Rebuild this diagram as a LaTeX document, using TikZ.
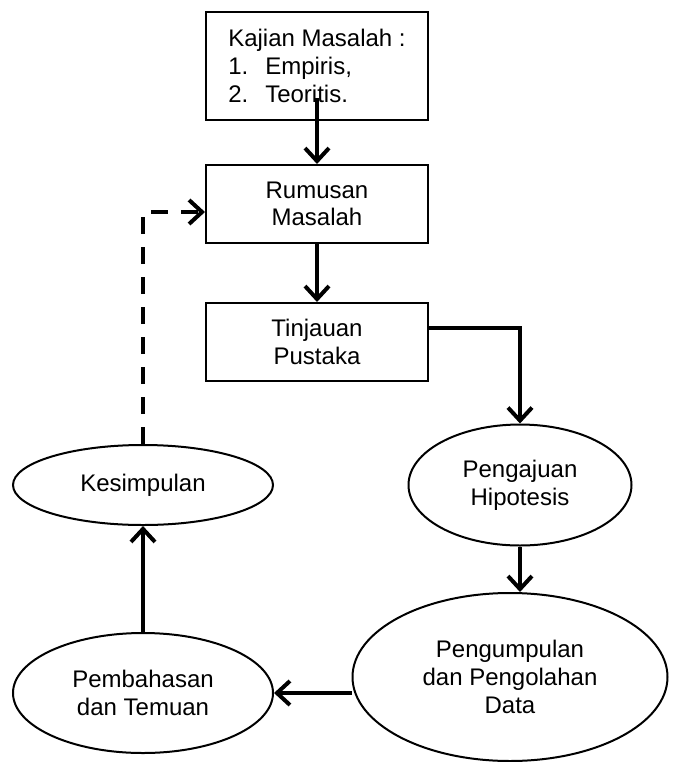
\documentclass[tikz,border=0pt]{standalone}
\usepackage{fontspec}
\setmainfont{Liberation Sans}
\usetikzlibrary{arrows.meta}
\usetikzlibrary{shapes.geometric}

\begin{document}
\begin{tikzpicture}[x=0.5pt,y=-0.5pt]
  \useasboundingbox (0,0) rectangle (675,762);

      \begin{scope}[every node/.style={rectangle,draw,line width=1pt,inner sep=0pt,
          minimum width=111pt,align=center,font=\fontsize{12}{13.8}\selectfont}]
        \node[minimum height=54pt,align=left,font=\fontsize{12}{14.2}\selectfont] (kajian) at (317,66)
          {Kajian Masalah :\\\makebox[18.5pt][l]{1.}Empiris,\\\makebox[18.5pt][l]{2.}Teoritis.};
        \node[minimum height=39pt] (rumusan) at (317,204) {Rumusan\\Masalah};
        \node[minimum height=39pt] (tinjauan) at (317,342) {Tinjauan\\Pustaka};
      \end{scope}

      \begin{scope}[every node/.style={ellipse,draw,line width=1pt,inner sep=0pt,
          align=center,font=\fontsize{12}{13.8}\selectfont}]
        \node[minimum width=111.5pt,minimum height=60.5pt] (pengajuan) at (520,485) {Pengajuan\\Hipotesis};
        \node[minimum width=157.5pt,minimum height=84pt] (pengumpulan) at (510,677) {Pengumpulan\\dan Pengolahan\\Data};
        \node[minimum width=130pt,minimum height=60pt] (pembahasan) at (143,693) {Pembahasan\\dan Temuan};
        \node[minimum width=130pt,minimum height=40pt] (kesimpulan) at (143,485) {Kesimpulan};
      \end{scope}

      \begin{scope}[line width=2pt,>={Straight Barb[length=6.5pt,width=12pt]}]
        \draw [->] ([yshift=11.5pt]kajian.south) -- (rumusan.north);
        \draw [->] (rumusan) -- (tinjauan);
        \draw [->] ([yshift=7pt]tinjauan.east) -| (pengajuan.north);
        \draw [->] (pengajuan.south) -- (pengajuan.south |- pengumpulan.north);
        \draw [->] (pembahasan.east -| pengumpulan.west) -- (pembahasan.east);
        \draw [->] (pembahasan) -- (kesimpulan);
        \draw [->,dash pattern=on 8.5pt off 6.5pt] (kesimpulan.north) |- ([yshift=-4pt]rumusan.west);
      \end{scope}
    \end{tikzpicture}
\end{document}
